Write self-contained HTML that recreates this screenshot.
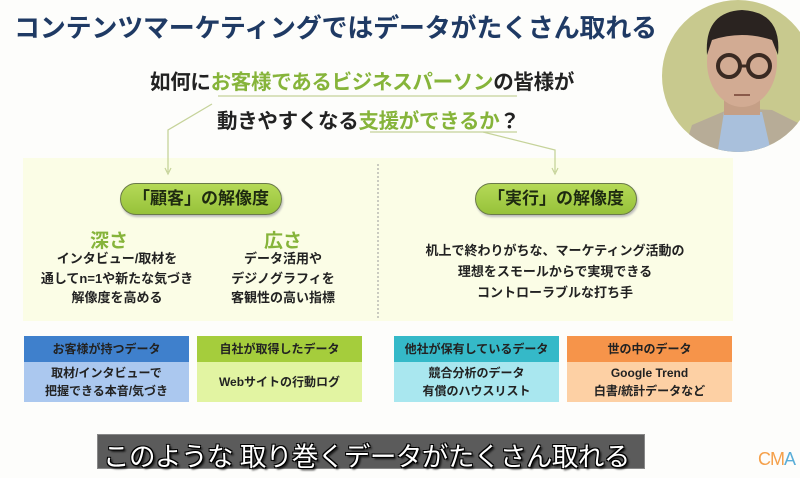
<!DOCTYPE html>
<html><head><meta charset="utf-8"><style>
*{margin:0;padding:0;box-sizing:border-box}
body{width:800px;height:478px;background:#fdfdfb;position:relative;overflow:hidden;font-family:"Liberation Sans","Noto Sans CJK JP",sans-serif;font-weight:bold}
.a{position:absolute;white-space:nowrap}
.title{left:14px;top:8px;font-size:26px;color:#1f3a64;letter-spacing:-0.2px}
.q{font-size:20.5px;color:#222;letter-spacing:-0.3px}
.g{color:#86b43a}
.panel{left:23px;top:158px;width:710px;height:163px;background:#fbfde6}
.pill{height:32px;top:183px;width:162px;border-radius:16px;background:linear-gradient(#b5d957,#97c23a);border:1.5px solid #6a7a4a;box-shadow:1px 2px 2px #bbb;font-size:17px;color:#1e2a10;text-align:center;line-height:29px}
.sub{font-size:19px;color:#86b43a}
.t{font-size:13px;color:#222;text-align:center;line-height:19.5px}
.box{top:336px;height:66px;width:165px;text-align:center;font-size:12px;color:#222}
.box .h{height:26px;line-height:26px}
.box .b{height:40px;display:flex;align-items:center;justify-content:center;line-height:18px}
</style></head><body>
<div class="a title">コンテンツマーケティングではデータがたくさん取れる</div>
<div class="a q" style="left:150px;top:65px">如何に<span class="g">お客様であるビジネスパーソン</span>の皆様が</div>
<div class="a q" style="left:217px;top:104px">動きやすくなる<span class="g">支援ができるか</span>？</div>
<div class="a panel"></div>
<svg class="a" style="left:0;top:0" width="800" height="478">
<g stroke="#c6d39a" stroke-width="1.3" fill="none">
<line x1="218" y1="96" x2="517" y2="96"/>
<line x1="370" y1="132" x2="517" y2="132"/>
<polyline points="212,104 168,130 168,172"/>
<polyline points="483,132 555,150 555,172"/>
</g>
<path d="M165,168 L168,174 L171,168" fill="none" stroke="#c6d39a" stroke-width="1.2"/>
<path d="M552,168 L555,174 L558,168" fill="none" stroke="#c6d39a" stroke-width="1.2"/>
<line x1="378" y1="164" x2="378" y2="320" stroke="#999" stroke-width="1" stroke-dasharray="2,2"/>
</svg>
<div class="a pill" style="left:120px">「顧客」の解像度</div>
<div class="a pill" style="left:475px">「実行」の解像度</div>
<div class="a sub" style="left:90px;top:226px">深さ</div>
<div class="a sub" style="left:264px;top:226px">広さ</div>
<div class="a t" style="left:27px;width:180px;top:249px">インタビュー/取材を<br>通してn=1や新たな気づき<br>解像度を高める</div>
<div class="a t" style="left:193px;width:180px;top:249px">データ活用や<br>デジノグラフィを<br>客観性の高い指標</div>
<div class="a t" style="left:405px;width:300px;top:240px;line-height:21px">机上で終わりがちな、マーケティング活動の<br>理想をスモールからで実現できる<br>コントローラブルな打ち手</div>
<div class="a box" style="left:24px"><div class="h" style="background:#3f80cc">お客様が持つデータ</div><div class="b" style="background:#abc8ef">取材/インタビューで<br>把握できる本音/気づき</div></div>
<div class="a box" style="left:197px"><div class="h" style="background:#a5cd3c">自社が取得したデータ</div><div class="b" style="background:#e2f4a2">Webサイトの行動ログ</div></div>
<div class="a box" style="left:394px"><div class="h" style="background:#35b9c8">他社が保有しているデータ</div><div class="b" style="background:#a9e7ef">競合分析のデータ<br>有償のハウスリスト</div></div>
<div class="a box" style="left:567px"><div class="h" style="background:#f6944a">世の中のデータ</div><div class="b" style="background:#fdd0a4">Google Trend<br>白書/統計データなど</div></div>
<svg class="a" style="left:662px;top:0" width="138" height="156">
<defs><clipPath id="c"><circle cx="76" cy="76" r="76"/></clipPath></defs>
<g clip-path="url(#c)">
<rect width="160" height="160" fill="#c8c98e"/>
<path d="M20,156 L30,125 L70,108 L110,110 L140,125 L150,156Z" fill="#b7ac97"/>
<path d="M55,156 L62,112 L100,112 L110,156Z" fill="#a9c0dc"/>
<rect x="62" y="85" width="36" height="30" fill="#c59f86"/>
<ellipse cx="80" cy="62" rx="35" ry="45" fill="#d2ab93"/>
<path d="M45,55 Q42,12 80,10 Q120,12 116,55 L110,40 Q80,30 50,40Z" fill="#2a2320"/>
<circle cx="67" cy="66" r="11" fill="none" stroke="#3a2a22" stroke-width="4"/>
<circle cx="97" cy="66" r="11" fill="none" stroke="#3a2a22" stroke-width="4"/>
<line x1="78" y1="66" x2="86" y2="66" stroke="#3a2a22" stroke-width="3"/>
<line x1="72" y1="95" x2="88" y2="95" stroke="#8a5a4a" stroke-width="2"/>
</g></svg>
<div class="a" style="left:97px;top:434px;width:548px;height:35px;background:#5b5b5b;border:1px solid #888"></div>
<div class="a" style="left:103px;top:435px;font-size:26.5px;color:#fff;font-weight:normal;letter-spacing:-0.5px;text-shadow:-1px -1px 0 #000,1px -1px 0 #000,-1px 1px 0 #000,1px 1px 0 #000,2px 2px 2px #000">このような 取り巻くデータがたくさん取れる</div>
<div class="a" style="left:758px;top:449px;font-size:18px;font-weight:normal;letter-spacing:-1px"><span style="color:#f5a04a">CM</span><span style="color:#5aaed8">A</span></div>
</body></html>
